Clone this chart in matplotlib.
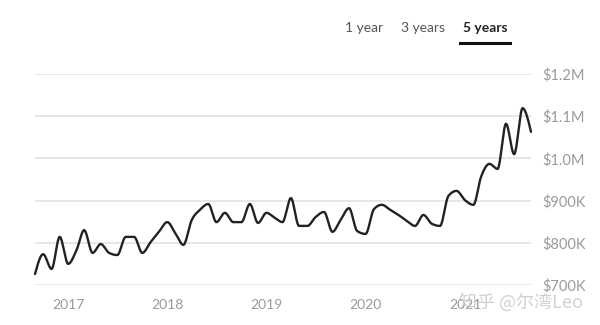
import numpy as np
import pandas as pd
import matplotlib
matplotlib.use("Agg")
import matplotlib.pyplot as plt
import matplotlib.dates as mdates

# ---- data (monthly median price, thousands USD) ----
start_month = "2016-09-01"
values_k = [726, 773, 738, 814, 750, 783, 830, 776, 797, 776,
            771, 814, 814, 776, 802, 826, 849, 821, 795, 854,
            878, 892, 849, 871, 849, 849, 892, 847, 871, 859,
            849, 906, 840, 840, 861, 873, 826, 854, 882, 828,
            821, 880, 890, 878, 866, 852, 840, 866, 845, 840,
            911, 923, 901, 890, 956, 987, 975, 1082, 1010, 1119,
            1063]
year_ticks = ["2017", "2018", "2019", "2020", "2021"]
y_ticks_k = [700, 800, 900, 1000, 1100, 1200]
y_tick_labels = ["$700K", "$800K", "$900K", "$1.0M", "$1.1M", "$1.2M"]
buttons = ["1 year", "3 years", "5 years"]

dates = pd.date_range(start_month, periods=len(values_k), freq="MS")
x = mdates.date2num(dates.to_pydatetime())
y = np.array(values_k, dtype=float)


def monotone_curve(x, y, n=20):
    """Monotone cubic (Fritsch-Carlson / d3 curveMonotoneX) sampling."""
    h = np.diff(x)
    s = np.diff(y) / h
    m = np.zeros_like(y)
    for i in range(1, len(y) - 1):
        if s[i - 1] * s[i] <= 0:
            m[i] = 0
        else:
            p = (s[i - 1] * h[i] + s[i] * h[i - 1]) / (h[i - 1] + h[i])
            m[i] = (np.sign(s[i - 1]) + np.sign(s[i])) * min(abs(s[i - 1]), abs(s[i]), 0.5 * abs(p))
    m[0] = (3 * s[0] - m[1]) / 2 if len(s) > 1 else s[0]
    m[-1] = (3 * s[-1] - m[-2]) / 2
    xs, ys = [], []
    for i in range(len(h)):
        t = np.linspace(0, 1, n, endpoint=False)
        h00 = 2 * t**3 - 3 * t**2 + 1
        h10 = t**3 - 2 * t**2 + t
        h01 = -2 * t**3 + 3 * t**2
        h11 = t**3 - t**2
        xs.append(x[i] + t * h[i])
        ys.append(h00 * y[i] + h10 * h[i] * m[i] + h01 * y[i + 1] + h11 * h[i] * m[i + 1])
    xs.append([x[-1]])
    ys.append([y[-1]])
    return np.concatenate(xs), np.concatenate(ys)


plt.rcParams["font.family"] = ["Lato", "Noto Sans CJK SC", "DejaVu Sans"]

fig = plt.figure(figsize=(6, 3.25), dpi=100)
fig.patch.set_facecolor("white")
W, H = 600, 325
ax = fig.add_axes([35 / W, 40 / H, (531 - 35) / W, (285 - 74) / H])

xs, ys = monotone_curve(x, y)
ax.plot(xs, ys, color="#222222", lw=1.7, solid_capstyle="round", zorder=3, clip_on=False)

ax.set_xlim(x[0], x[-1])
ax.set_ylim(y_ticks_k[0], y_ticks_k[-1])
ax.set_yticks(y_ticks_k)
ax.set_yticklabels(y_tick_labels)
ax.yaxis.tick_right()
ax.tick_params(axis="y", length=0, pad=8, labelsize=10.5, labelcolor="#9a9a9a")

xt = [mdates.date2num(pd.Timestamp(f"{yr}-01-01").to_pydatetime()) for yr in year_ticks]
ax.set_xticks(xt)
ax.set_xticklabels(year_ticks)
ax.tick_params(axis="x", length=0, pad=10, labelsize=10, labelcolor="#9a9a9a")

ax.grid(axis="y", color="#e6e6e6", lw=1.4, zorder=0)
ax.grid(axis="x", visible=False)
for sp in ax.spines.values():
    sp.set_visible(False)

# range buttons
fig.text(364 / W, 1 - 28 / H, buttons[0], ha="center", va="center", fontsize=10, color="#555555")
fig.text(422.5 / W, 1 - 28 / H, buttons[1], ha="center", va="center", fontsize=10, color="#555555")
fig.text(485 / W, 1 - 28 / H, buttons[2], ha="center", va="center", fontsize=10, color="#222222",
         fontweight="bold")
fig.add_artist(plt.Line2D([460 / W, 510 / W], [1 - 43 / H, 1 - 43 / H], color="#111111", lw=2.2))

# watermark
fig.text(521 / W, 1 - 302 / H, "知乎 @尔湾Leo", ha="center", va="center", fontsize=13,
         color="#cccccc", alpha=0.9, family=["Noto Sans CJK SC", "DejaVu Sans"], zorder=10)

fig.savefig("out.png", dpi=100, facecolor="white")
